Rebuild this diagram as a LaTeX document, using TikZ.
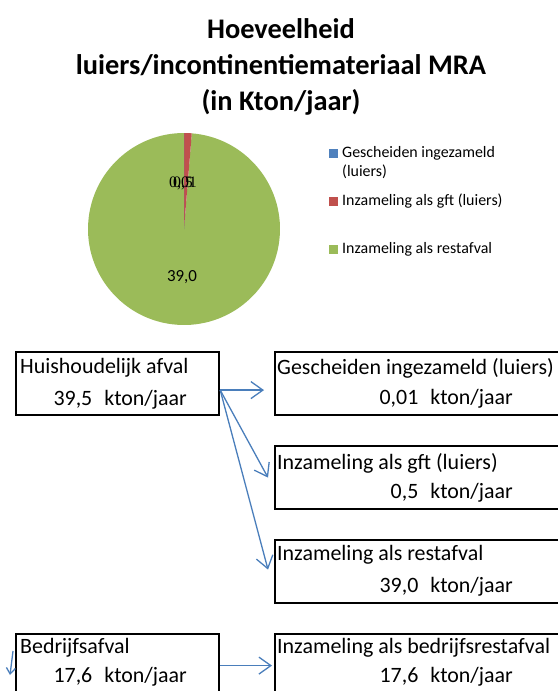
\documentclass[tikz,border=0pt]{standalone}
\usepackage{fontspec}
\setmainfont{Carlito}
\newfontfamily\labelfont{Liberation Serif}
\usetikzlibrary{arrows.meta,positioning}
\definecolor{pieblue}{HTML}{4F81BD}
\definecolor{piered}{HTML}{C0504D}
\definecolor{piegreen}{HTML}{9BBB59}
\definecolor{flowblue}{HTML}{4A7EBB}
\tikzset{
  kader/.style={draw=black,line width=2.2bp,minimum height=63bp,inner sep=0pt,anchor=north west},
  regel/.style={inner sep=0pt,font=\fontsize{22}{24}\selectfont},
  legenda/.style={inner sep=0pt,anchor=west,font=\fontsize{16}{18}\selectfont},
  pijl/.style={draw=flowblue,line width=1.3bp,-{Straight Barb[length=12bp,width=17bp]}},
}

\begin{document}
\begin{tikzpicture}[x=1bp,y=-1bp]
	\useasboundingbox (0,0) rectangle (558,691);
	\clip (0,0) rectangle (558,691);
	\node[font=\bfseries\fontsize{28.5}{36}\selectfont,align=center] (titel) at (281,67)
		{Hoeveelheid\\luiers/incontinentiemateriaal MRA\\(in Kton/jaar)};
	\coordinate (M) at (184,229);
	\fill[piegreen] (M) -- ++(-85.35:96) arc[start angle=-85.35,end angle=270,radius=96] -- cycle;
	\fill[piered] (M) -- ++(-89.91:96) arc[start angle=-89.91,end angle=-85.35,radius=96] -- cycle;
	\fill[pieblue] (M) -- ++(-90:96) arc[start angle=-90,end angle=-89.91,radius=96] -- cycle;
	\node[font=\labelfont\fontsize{16}{18}\selectfont] (lblgft) at (183,183) {0,5};
	\node[font=\labelfont\fontsize{16}{18}\selectfont] (lblgesch) at (183,183) {0,01};
	\node[font=\fontsize{17}{19}\selectfont] (lblrest) at (182,277) {39,0};
	\fill[pieblue] (329,149) rectangle ++(9,9);
	\fill[piered] (329,197) rectangle ++(9,9);
	\fill[piegreen] (329,245) rectangle ++(9,9);
	\node[legenda] (leggesch) at (342,153) {Gescheiden ingezameld};
	\node[legenda] (leggesch2) at (342,172) {(luiers)};
	\node[legenda] (leggft) at (342,201) {Inzameling als gft (luiers)};
	\node[legenda] (legrest) at (342,249) {Inzameling als restafval};
	\node[kader,minimum width=203bp] (huis) at (15,351) {};
	\node[kader,minimum width=300bp] (gesch) at (274,351) {};
	\node[kader,minimum width=300bp] (gft) at (274,445) {};
	\node[kader,minimum width=300bp] (rest) at (274,539) {};
	\node[kader,minimum width=203bp] (bedr) at (15,633) {};
	\node[kader,minimum width=300bp] (bedrrest) at (274,633) {};
	\node[regel,anchor=west] at ([shift={(5,17)}]huis.north west) {Huishoudelijk afval};
	\node[regel,anchor=east] at ([shift={(172,49)}]huis.north west) {39,5\hspace{0.55em}kton/jaar};
	\node[regel,anchor=west] at ([shift={(3,17)}]gesch.north west) {Gescheiden ingezameld (luiers)};
	\node[regel,anchor=east] at ([shift={(239,48)}]gesch.north west) {0,01\hspace{0.55em}kton/jaar};
	\node[regel,anchor=west] at ([shift={(3,18)}]gft.north west) {Inzameling als gft (luiers)};
	\node[regel,anchor=east] at ([shift={(239,48)}]gft.north west) {0,5\hspace{0.55em}kton/jaar};
	\node[regel,anchor=west] at ([shift={(3,16)}]rest.north west) {Inzameling als restafval};
	\node[regel,anchor=east] at ([shift={(239,48)}]rest.north west) {39,0\hspace{0.55em}kton/jaar};
	\node[regel,anchor=west] at ([shift={(5,15)}]bedr.north west) {Bedrijfsafval};
	\node[regel,anchor=east] at ([shift={(172,44)}]bedr.north west) {17,6\hspace{0.55em}kton/jaar};
	\node[regel,anchor=west] at ([shift={(3,15)}]bedrrest.north west) {Inzameling als bedrijfsrestafval};
	\node[regel,anchor=east] at ([shift={(239,44)}]bedrrest.north west) {17,6\hspace{0.55em}kton/jaar};
	\draw[pijl] ([yshift=-6.5bp]huis.east) -- ([xshift=-10bp,yshift=-6.5bp]gesch.west);
	\draw[pijl] ([yshift=-6.5bp]huis.east) -- ([xshift=-6bp]gft.west);
	\draw[pijl] ([yshift=-6.5bp]huis.east) -- ([xshift=-6bp,yshift=2bp]rest.west);
	\draw[pijl] (bedr.east) -- ([xshift=-2bp]bedrrest.west);
	\coordinate (pijlboven) at (13,651);
	\coordinate (pijlonder) at (10,675);
	\draw[pijl,-{Straight Barb[length=6bp,width=9bp]}] (pijlboven) -- (pijlonder);
\end{tikzpicture}
\end{document}
